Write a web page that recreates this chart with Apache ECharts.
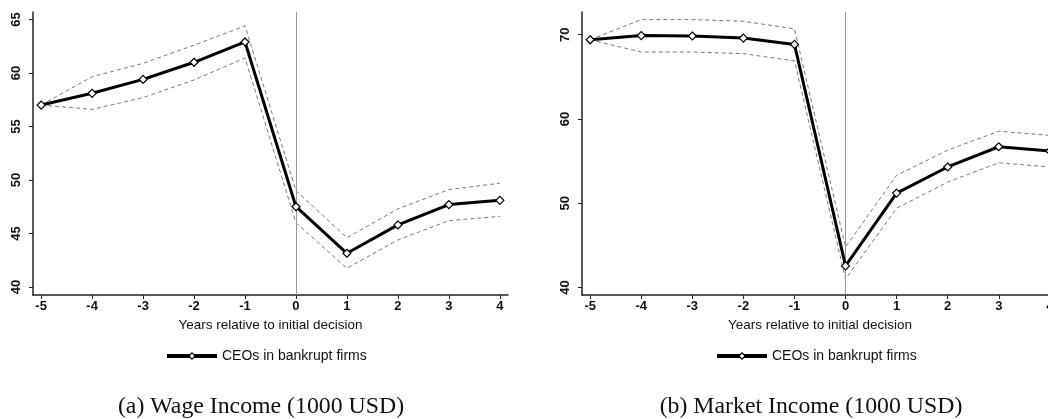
<!DOCTYPE html>
<html><head><meta charset="utf-8">
<script src="https://cdn.jsdelivr.net/npm/echarts@6/dist/echarts.min.js"></script>
<style>html,body{margin:0;padding:0;background:#fff;overflow:hidden}#c{width:1062px;height:419px}</style>
</head><body><div id="c"></div>
<script>
// Data
const years = [-5, -4, -3, -2, -1, 0, 1, 2, 3, 4];
const wageMean  = [57.0, 58.1, 59.4, 61.0, 62.9, 47.5, 43.15, 45.8, 47.7, 48.1];
const wageUpper = [57.0, 59.65, 60.9, 62.6, 64.4, 49.0, 44.6, 47.3, 49.1, 49.7];
const wageLower = [57.0, 56.6, 57.7, 59.35, 61.4, 46.0, 41.75, 44.4, 46.2, 46.6];
const mktMean  = [69.4, 69.9, 69.85, 69.6, 68.85, 42.55, 51.2, 54.3, 56.7, 56.2];
const mktUpper = [69.4, 71.8, 71.8, 71.6, 70.7, 44.8, 53.3, 56.3, 58.55, 58.05];
const mktLower = [69.4, 67.95, 67.95, 67.75, 66.9, 41.0, 49.4, 52.5, 54.8, 54.3];
const wageTicks = [40, 45, 50, 55, 60, 65];
const mktTicks = [40, 50, 60, 70];
const seriesName = 'CEOs in bankrupt firms';
const xTitle = 'Years relative to initial decision';
const captionA = '(a) Wage Income (1000 USD)';
const captionB = '(b) Market Income (1000 USD)';

const pairs = (ys) => years.map((x, i) => [x, ys[i]]);
const sans = 'Liberation Sans, Arial, sans-serif';
const serif = 'Liberation Serif, Times New Roman, serif';
const axisCol = '#222';

function xAxisDef(gi) {
  return {
    type: 'value', gridIndex: gi, min: -5.16, max: 4.16,
    name: xTitle, nameLocation: 'middle', nameGap: 21,
    nameTextStyle: { fontFamily: sans, fontSize: 13.5, color: '#111' },
    axisLine: { show: true, onZero: false, lineStyle: { color: axisCol, width: 1.5 } },
    axisTick: { show: true, length: 4, customValues: years, lineStyle: { color: axisCol } },
    axisLabel: { customValues: years, fontFamily: sans, fontSize: 13, fontWeight: 'bold', color: '#111', margin: 5 },
    splitLine: { show: false }
  };
}
function yAxisDef(gi, min, max, ticks) {
  return {
    type: 'value', gridIndex: gi, min: min, max: max,
    axisLine: { show: true, onZero: false, lineStyle: { color: axisCol, width: 1.5 } },
    axisTick: { show: true, length: 4, customValues: ticks, lineStyle: { color: axisCol } },
    axisLabel: { customValues: ticks, rotate: 90, fontFamily: sans, fontSize: 13, fontWeight: 'bold', color: '#111', margin: 10 },
    splitLine: { show: false }
  };
}
function ciSeries(gi, ys, nm) {
  return {
    type: 'line', name: nm, xAxisIndex: gi, yAxisIndex: gi, data: pairs(ys),
    symbol: 'none', silent: true,
    lineStyle: { color: '#7a7a7a', width: 1, type: [4, 3] }, z: 2
  };
}
function meanSeries(gi, ys) {
  return {
    type: 'line', name: seriesName, xAxisIndex: gi, yAxisIndex: gi, data: pairs(ys),
    symbol: 'diamond', symbolSize: 8,
    itemStyle: { color: '#fff', borderColor: '#000', borderWidth: 1.2 },
    lineStyle: { color: '#000', width: 3 }, z: 5,
    markLine: {
      silent: true, symbol: 'none', label: { show: false },
      lineStyle: { color: '#999', width: 1, type: 'solid' },
      data: [{ xAxis: 0 }]
    }
  };
}
function legendDef(left) {
  return {
    data: [seriesName], left: left, top: 344, itemWidth: 50, itemHeight: 8, itemGap: 8,
    lineStyle: { width: 4, color: '#000' },
    itemStyle: { color: '#fff', borderColor: '#000', borderWidth: 1.2 },
    textStyle: { fontFamily: sans, fontSize: 14, color: '#111' }
  };
}

const chart = echarts.init(document.getElementById('c'), null, { renderer: 'canvas' });
chart.setOption({
  animation: false,
  backgroundColor: '#fff',
  grid: [
    { left: 33, top: 12, width: 475, height: 283 },
    { left: 582, top: 12, width: 476, height: 283 }
  ],
  xAxis: [xAxisDef(0), xAxisDef(1)],
  yAxis: [yAxisDef(0, 39.25, 65.7, wageTicks), yAxisDef(1, 39.1, 72.7, mktTicks)],
  legend: [legendDef(160), legendDef(710)],
  title: [
    { text: captionA, left: 256, top: 390, textAlign: 'center',
      textStyle: { fontFamily: serif, fontSize: 23.8, fontWeight: 'normal', color: '#111' } },
    { text: captionB, left: 806, top: 390, textAlign: 'center',
      textStyle: { fontFamily: serif, fontSize: 23.8, fontWeight: 'normal', color: '#111' } }
  ],
  series: [
    ciSeries(0, wageUpper, 'upper a'), ciSeries(0, wageLower, 'lower a'), meanSeries(0, wageMean),
    ciSeries(1, mktUpper, 'upper b'), ciSeries(1, mktLower, 'lower b'), meanSeries(1, mktMean)
  ]
});
</script></body></html>
